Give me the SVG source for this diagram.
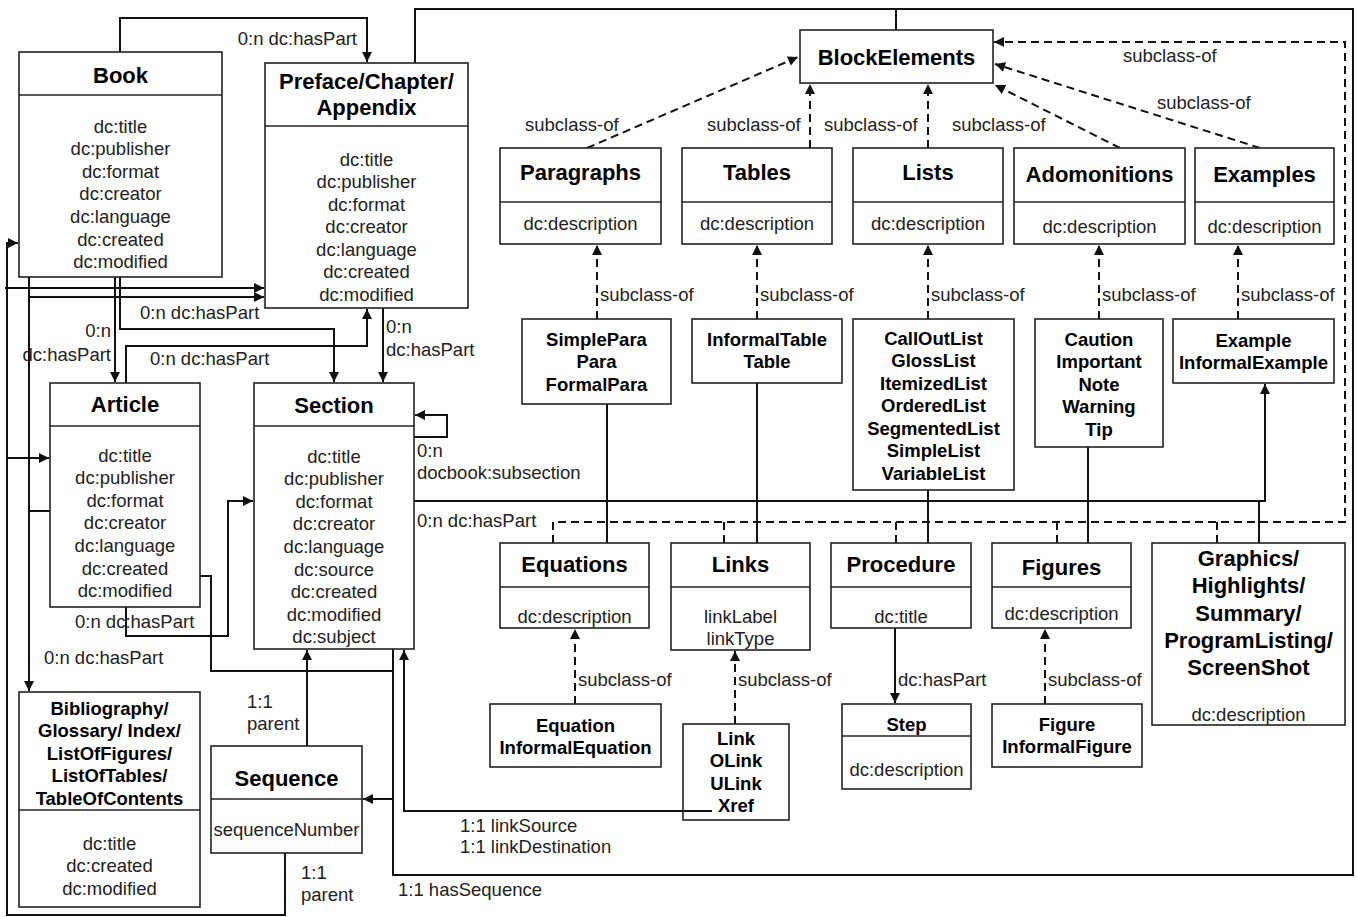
<svg xmlns="http://www.w3.org/2000/svg" width="1357" height="917" viewBox="0 0 1357 917">
<style>
.box{fill:#fff;stroke:#222;stroke-width:1.6}
.open{fill:none}
.div{stroke:#222;stroke-width:1.6}
.c{fill:none;stroke:#111;stroke-width:2}
.d{fill:none;stroke:#111;stroke-width:2;stroke-dasharray:8 5}
.t{font-family:"Liberation Sans",Arial,sans-serif;font-size:22px;font-weight:bold;fill:#000;text-anchor:middle}
.b{font-family:"Liberation Sans",Arial,sans-serif;font-size:18.5px;font-weight:bold;fill:#000;text-anchor:middle}
.a{font-family:"Liberation Sans",Arial,sans-serif;font-size:18.5px;fill:#222;text-anchor:middle}
.l{font-family:"Liberation Sans",Arial,sans-serif;font-size:18.5px;fill:#222}
</style>
<defs>
<marker id="ar" viewBox="0 0 10 10" refX="10" refY="5" markerWidth="11" markerHeight="10" markerUnits="userSpaceOnUse" orient="auto">
<path d="M0,0 L10,5 L0,10 z" fill="#111"/>
</marker>
</defs>
<rect width="1357" height="917" fill="#fff"/>

<g id="connectors">
<path class="c" d="M120,52 V18 H367 V62" marker-end="url(#ar)"/>
<path class="c" d="M415,63 V9 H1353 V875 H393 V649"/>
<path class="c" d="M896,9 V30"/>
<path class="c" d="M200,576 H211 V671 H393"/>
<path class="c" d="M393,799 H363" marker-end="url(#ar)"/>
<path class="c" d="M307,746 V650" marker-end="url(#ar)"/>
<path class="c" d="M285,853 V915 H7 V243 H18" marker-end="url(#ar)"/>
<path class="c" d="M7,458 H49" marker-end="url(#ar)"/>
<path class="c" d="M5,288 H264" marker-end="url(#ar)"/>
<path class="c" d="M29,277 V691" marker-end="url(#ar)"/>
<path class="c" d="M29,297 H264" marker-end="url(#ar)"/>
<path class="c" d="M29,511 H50"/>
<path class="c" d="M115,277 V382" marker-end="url(#ar)"/>
<path class="c" d="M120,277 V329 H334 V382" marker-end="url(#ar)"/>
<path class="c" d="M126,383 V346 H367 V309" marker-end="url(#ar)"/>
<path class="c" d="M383,308 V382" marker-end="url(#ar)"/>
<path class="c" d="M414,437 H447 V415 H415" marker-end="url(#ar)"/>
<path class="c" d="M126,607 V636 H228 V501 H253" marker-end="url(#ar)"/>
<path class="c" d="M414,501 H1265 V384" marker-end="url(#ar)"/>
<path class="c" d="M607,404 V543 M757,383 V543 M928,490 V543 M1088,447 V543 M1259,501 V543"/>
<path class="c" d="M895,628 V703" marker-end="url(#ar)"/>
<path class="c" d="M712,811 H404 V650" marker-end="url(#ar)"/>
<path class="d" d="M587,148 L798,57" marker-end="url(#ar)"/>
<path class="d" d="M810,148 V84" marker-end="url(#ar)"/>
<path class="d" d="M928,148 V84" marker-end="url(#ar)"/>
<path class="d" d="M1120,148 L995,85" marker-end="url(#ar)"/>
<path class="d" d="M1260,148 L995,64" marker-end="url(#ar)"/>
<path class="d" d="M553,543 V522 H1345 V42 H994" marker-end="url(#ar)"/>
<path class="d" d="M724,543 V522 M896,543 V522 M1057,543 V522 M1217,543 V522"/>
<path class="d" d="M597,319 V245" marker-end="url(#ar)"/>
<path class="d" d="M757,319 V245" marker-end="url(#ar)"/>
<path class="d" d="M928,319 V245" marker-end="url(#ar)"/>
<path class="d" d="M1099,319 V245" marker-end="url(#ar)"/>
<path class="d" d="M1238,319 V245" marker-end="url(#ar)"/>
<path class="d" d="M575,704 V629" marker-end="url(#ar)"/>
<path class="d" d="M735,724 V651" marker-end="url(#ar)"/>
<path class="d" d="M1045,704 V629" marker-end="url(#ar)"/>
<text class="l" x="357" y="44.5" text-anchor="end">0:n dc:hasPart</text>
<text class="l" x="111" y="336.5" text-anchor="end">0:n</text>
<text class="l" x="111" y="360.5" text-anchor="end">dc:hasPart</text>
<text class="l" x="140" y="318.5">0:n dc:hasPart</text>
<text class="l" x="150" y="364.5">0:n dc:hasPart</text>
<text class="l" x="386" y="332.5">0:n</text>
<text class="l" x="386" y="355.5">dc:hasPart</text>
<text class="l" x="417" y="456.5">0:n</text>
<text class="l" x="417" y="478.5">docbook:subsection</text>
<text class="l" x="417" y="526.5">0:n dc:hasPart</text>
<text class="l" x="75" y="627.5">0:n dc:hasPart</text>
<text class="l" x="44" y="663.5">0:n dc:hasPart</text>
<text class="l" x="247" y="708">1:1</text>
<text class="l" x="247" y="729.5">parent</text>
<text class="l" x="301" y="878.5">1:1</text>
<text class="l" x="301" y="900.5">parent</text>
<text class="l" x="460" y="831.5">1:1 linkSource</text>
<text class="l" x="460" y="852.5">1:1 linkDestination</text>
<text class="l" x="398" y="895.5">1:1 hasSequence</text>
<text class="l" x="898" y="685.5">dc:hasPart</text>
<text class="l" x="525" y="130.5">subclass-of</text>
<text class="l" x="707" y="130.5">subclass-of</text>
<text class="l" x="824" y="130.5">subclass-of</text>
<text class="l" x="952" y="130.5">subclass-of</text>
<text class="l" x="1157" y="108.5">subclass-of</text>
<text class="l" x="1123" y="61.5">subclass-of</text>
<text class="l" x="600" y="300.5">subclass-of</text>
<text class="l" x="760" y="300.5">subclass-of</text>
<text class="l" x="931" y="300.5">subclass-of</text>
<text class="l" x="1102" y="300.5">subclass-of</text>
<text class="l" x="1241" y="300.5">subclass-of</text>
<text class="l" x="578" y="685.5">subclass-of</text>
<text class="l" x="738" y="685.5">subclass-of</text>
<text class="l" x="1048" y="685.5">subclass-of</text>
</g>

<g id="book">
<rect class="box" x="19" y="52" width="203" height="225"/>
<line class="div" x1="19" y1="95" x2="222" y2="95"/>
<text class="t" x="120.5" y="83">Book</text>
<text class="a" x="120.5" y="132.5"><tspan x="120.5">dc:title</tspan><tspan x="120.5" dy="22.6">dc:publisher</tspan><tspan x="120.5" dy="22.6">dc:format</tspan><tspan x="120.5" dy="22.6">dc:creator</tspan><tspan x="120.5" dy="22.6">dc:language</tspan><tspan x="120.5" dy="22.6">dc:created</tspan><tspan x="120.5" dy="22.6">dc:modified</tspan></text>
</g>

<g id="preface">
<rect class="box" x="265" y="63" width="203" height="245"/>
<line class="div" x1="265" y1="126" x2="468" y2="126"/>
<text class="t" x="366.5" y="89">Preface/Chapter/</text>
<text class="t" x="366.5" y="115">Appendix</text>
<text class="a" x="366.5" y="165.5"><tspan x="366.5">dc:title</tspan><tspan x="366.5" dy="22.5">dc:publisher</tspan><tspan x="366.5" dy="22.5">dc:format</tspan><tspan x="366.5" dy="22.5">dc:creator</tspan><tspan x="366.5" dy="22.5">dc:language</tspan><tspan x="366.5" dy="22.5">dc:created</tspan><tspan x="366.5" dy="22.5">dc:modified</tspan></text>
</g>

<g id="article">
<rect class="box" x="50" y="383" width="150" height="224"/>
<line class="div" x1="50" y1="426" x2="200" y2="426"/>
<text class="t" x="125" y="412">Article</text>
<text class="a" x="125" y="461.5"><tspan x="125">dc:title</tspan><tspan x="125" dy="22.6">dc:publisher</tspan><tspan x="125" dy="22.6">dc:format</tspan><tspan x="125" dy="22.6">dc:creator</tspan><tspan x="125" dy="22.6">dc:language</tspan><tspan x="125" dy="22.6">dc:created</tspan><tspan x="125" dy="22.6">dc:modified</tspan></text>
</g>

<g id="section">
<rect class="box" x="254" y="383" width="160" height="266"/>
<line class="div" x1="254" y1="426" x2="414" y2="426"/>
<text class="t" x="334" y="413">Section</text>
<text class="a" x="334" y="462.5"><tspan x="334">dc:title</tspan><tspan x="334" dy="22.6">dc:publisher</tspan><tspan x="334" dy="22.6">dc:format</tspan><tspan x="334" dy="22.6">dc:creator</tspan><tspan x="334" dy="22.6">dc:language</tspan><tspan x="334" dy="22.6">dc:source</tspan><tspan x="334" dy="22.6">dc:created</tspan><tspan x="334" dy="22.6">dc:modified</tspan><tspan x="334" dy="22.6">dc:subject</tspan></text>
</g>

<g id="bibliography">
<rect class="box" x="19" y="692" width="181" height="215"/>
<line class="div" x1="19" y1="810" x2="200" y2="810"/>
<text class="b" x="109.5" y="714.5"><tspan x="109.5">Bibliography/</tspan><tspan x="109.5" dy="22.5">Glossary/ Index/</tspan><tspan x="109.5" dy="22.5">ListOfFigures/</tspan><tspan x="109.5" dy="22.5">ListOfTables/</tspan><tspan x="109.5" dy="22.5">TableOfContents</tspan></text>
<text class="a" x="109.5" y="849.5"><tspan x="109.5">dc:title</tspan><tspan x="109.5" dy="22.5">dc:created</tspan><tspan x="109.5" dy="22.5">dc:modified</tspan></text>
</g>

<g id="sequence">
<rect class="box" x="211" y="746" width="151" height="107"/>
<line class="div" x1="211" y1="799" x2="362" y2="799"/>
<text class="t" x="286.5" y="786">Sequence</text>
<text class="a" x="286.5" y="835.5">sequenceNumber</text>
</g>

<g id="blockelements">
<rect class="box" x="800" y="30" width="193" height="53"/>
<text class="t" x="896.5" y="65">BlockElements</text>
</g>

<g id="paragraphs">
<rect class="box" x="500" y="148" width="161" height="96"/>
<line class="div" x1="500" y1="202" x2="661" y2="202"/>
<text class="t" x="580.5" y="180">Paragraphs</text>
<text class="a" x="580.5" y="229.5">dc:description</text>
</g>

<g id="tables">
<rect class="box" x="682" y="148" width="150" height="96"/>
<line class="div" x1="682" y1="202" x2="832" y2="202"/>
<text class="t" x="757" y="180">Tables</text>
<text class="a" x="757" y="229.5">dc:description</text>
</g>

<g id="lists">
<rect class="box" x="853" y="148" width="150" height="96"/>
<line class="div" x1="853" y1="202" x2="1003" y2="202"/>
<text class="t" x="928" y="180">Lists</text>
<text class="a" x="928" y="229.5">dc:description</text>
</g>

<g id="adomonitions">
<rect class="box" x="1014" y="148" width="171" height="96"/>
<line class="div" x1="1014" y1="202" x2="1185" y2="202"/>
<text class="t" x="1099.5" y="182">Adomonitions</text>
<text class="a" x="1099.5" y="232.5">dc:description</text>
</g>

<g id="examples">
<rect class="box" x="1195" y="148" width="139" height="96"/>
<line class="div" x1="1195" y1="202" x2="1334" y2="202"/>
<text class="t" x="1264.5" y="182">Examples</text>
<text class="a" x="1264.5" y="232.5">dc:description</text>
</g>

<g id="simplepara">
<rect class="box" x="522" y="319" width="149" height="85"/>
<text class="b" x="596.5" y="345.5"><tspan x="596.5">SimplePara</tspan><tspan x="596.5" dy="22.5">Para</tspan><tspan x="596.5" dy="22.5">FormalPara</tspan></text>
</g>

<g id="informaltable">
<rect class="box" x="692" y="319" width="150" height="64"/>
<text class="b" x="767" y="345.5"><tspan x="767">InformalTable</tspan><tspan x="767" dy="22.5">Table</tspan></text>
</g>

<g id="listtypes">
<rect class="box" x="853" y="319" width="161" height="171"/>
<text class="b" x="933.5" y="344.5"><tspan x="933.5">CallOutList</tspan><tspan x="933.5" dy="22.5">GlossList</tspan><tspan x="933.5" dy="22.5">ItemizedList</tspan><tspan x="933.5" dy="22.5">OrderedList</tspan><tspan x="933.5" dy="22.5">SegmentedList</tspan><tspan x="933.5" dy="22.5">SimpleList</tspan><tspan x="933.5" dy="22.5">VariableList</tspan></text>
</g>

<g id="caution">
<rect class="box" x="1035" y="319" width="128" height="128"/>
<text class="b" x="1099" y="345.5"><tspan x="1099">Caution</tspan><tspan x="1099" dy="22.5">Important</tspan><tspan x="1099" dy="22.5">Note</tspan><tspan x="1099" dy="22.5">Warning</tspan><tspan x="1099" dy="22.5">Tip</tspan></text>
</g>

<g id="example">
<rect class="box" x="1173" y="319" width="161" height="64"/>
<text class="b" x="1253.5" y="346.5"><tspan x="1253.5">Example</tspan><tspan x="1253.5" dy="22.5">InformalExample</tspan></text>
</g>

<g id="equations">
<rect class="box" x="500" y="543" width="149" height="85"/>
<line class="div" x1="500" y1="587" x2="649" y2="587"/>
<text class="t" x="574.5" y="572">Equations</text>
<text class="a" x="574.5" y="622.5">dc:description</text>
</g>

<g id="links">
<rect class="box" x="671" y="543" width="139" height="107"/>
<line class="div" x1="671" y1="587" x2="810" y2="587"/>
<text class="t" x="740.5" y="572">Links</text>
<text class="a" x="740.5" y="622.5"><tspan x="740.5">linkLabel</tspan><tspan x="740.5" dy="22.5">linkType</tspan></text>
</g>

<g id="procedure">
<rect class="box" x="831" y="543" width="140" height="85"/>
<line class="div" x1="831" y1="587" x2="971" y2="587"/>
<text class="t" x="901" y="572">Procedure</text>
<text class="a" x="901" y="622.5">dc:title</text>
</g>

<g id="figures">
<rect class="box" x="992" y="543" width="139" height="85"/>
<line class="div" x1="992" y1="587" x2="1131" y2="587"/>
<text class="t" x="1061.5" y="575">Figures</text>
<text class="a" x="1061.5" y="619.5">dc:description</text>
</g>

<g id="graphics">
<rect class="box" x="1152" y="543" width="193" height="182"/>
<text class="t" x="1248.5" y="566"><tspan x="1248.5">Graphics/</tspan><tspan x="1248.5" dy="27.3">Highlights/</tspan><tspan x="1248.5" dy="27.3">Summary/</tspan><tspan x="1248.5" dy="27.3">ProgramListing/</tspan><tspan x="1248.5" dy="27.3">ScreenShot</tspan></text>
<text class="a" x="1248.5" y="720.5">dc:description</text>
</g>

<g id="equation">
<rect class="box" x="490" y="704" width="171" height="63"/>
<text class="b" x="575.5" y="731.5"><tspan x="575.5">Equation</tspan><tspan x="575.5" dy="22">InformalEquation</tspan></text>
</g>

<g id="link">
<rect class="box open" x="683" y="724" width="106" height="96"/>
<text class="b" x="736" y="744.5"><tspan x="736">Link</tspan><tspan x="736" dy="22.6">OLink</tspan><tspan x="736" dy="22.6">ULink</tspan><tspan x="736" dy="22.6">Xref</tspan></text>
</g>

<g id="step">
<rect class="box" x="842" y="704" width="129" height="85"/>
<line class="div" x1="842" y1="736" x2="971" y2="736"/>
<text class="b" x="906.5" y="730.5">Step</text>
<text class="a" x="906.5" y="775.5">dc:description</text>
</g>

<g id="figure">
<rect class="box" x="992" y="704" width="150" height="63"/>
<text class="b" x="1067" y="730.5"><tspan x="1067">Figure</tspan><tspan x="1067" dy="22.5">InformalFigure</tspan></text>
</g>
</svg>
